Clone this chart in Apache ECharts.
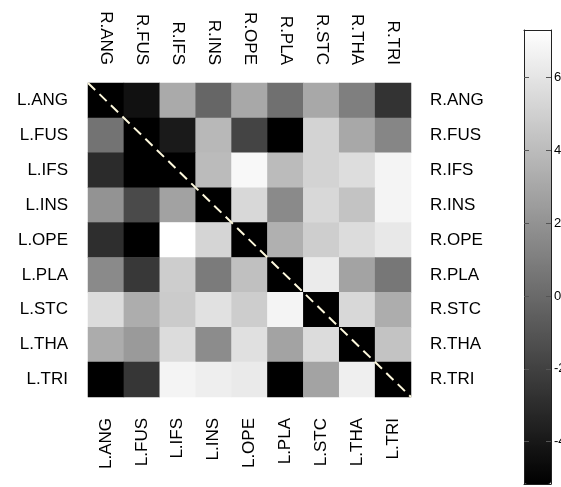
<!DOCTYPE html>
<html>
<head>
<meta charset="utf-8">
<script src="https://cdn.jsdelivr.net/npm/echarts@6/dist/echarts.min.js"></script>
<style>html,body{margin:0;padding:0;background:#fff;}#chart{width:561px;height:487px;}</style>
</head>
<body>
<div id="chart"></div>
<script>
// ---- data ----
const rowLabels = ['L.ANG', 'L.FUS', 'L.IFS', 'L.INS', 'L.OPE', 'L.PLA', 'L.STC', 'L.THA', 'L.TRI'];
const colLabels = ['R.ANG', 'R.FUS', 'R.IFS', 'R.INS', 'R.OPE', 'R.PLA', 'R.STC', 'R.THA', 'R.TRI'];
const rowANG = [-5.16, -4.33, 3.15, -0.18, 3.05, 0.31, 3.05, 1.05, -2.67];
const rowFUS = [0.46, -5.16, -3.89, 3.83, -1.84, -5.16, 5.15, 3.05, 1.39];
const rowIFS = [-3.06, -5.16, -5.16, 3.98, 6.96, 3.98, 5.15, 5.64, 6.76];
const rowINS = [2.02, -1.54, 2.76, -5.16, 5.39, 1.58, 5.39, 4.37, 6.76];
const rowOPE = [-2.91, -5.16, 7.30, 5.25, -5.16, 3.44, 4.91, 5.59, 6.18];
const rowPLA = [1.58, -2.42, 4.86, 0.85, 4.22, -5.16, 6.32, 2.80, 0.65];
const rowSTC = [5.59, 3.29, 4.76, 5.83, 4.86, 6.76, -5.16, 5.39, 3.29];
const rowTHA = [3.24, 2.37, 5.59, 1.68, 5.79, 2.80, 5.59, -5.16, 4.37];
const rowTRI = [-5.16, -2.52, 6.76, 6.47, 6.27, -5.16, 2.80, 6.52, -5.16];
const colorbarTicks = [-4, -2, 0, 2, 4, 6];
const colorMin = -5.16;
const colorMax = 7.30;

const rows = [rowANG, rowFUS, rowIFS, rowINS, rowOPE, rowPLA, rowSTC, rowTHA, rowTRI];
const cells = [];
rows.forEach((r, i) => r.forEach((v, j) => cells.push([j, i, v])));
const n = rowLabels.length;

const font = '"Liberation Sans", Arial, Helvetica, sans-serif';
const labelBase = { color: '#000', fontFamily: font, fontSize: 17 };

const chart = echarts.init(document.getElementById('chart'), null, { renderer: 'canvas' });
chart.setOption({
  animation: false,
  backgroundColor: '#fff',
  grid: [
    { left: 88, top: 83, width: 323, height: 314, outerBoundsMode: 'none', containLabel: false },
    { left: 524, top: 30, width: 27, height: 454, outerBoundsMode: 'none', containLabel: false }
  ],
  xAxis: [
    { gridIndex: 0, type: 'category', position: 'bottom', data: rowLabels,
      axisLine: { show: false }, axisTick: { show: false }, splitLine: { show: false },
      axisLabel: Object.assign({ rotate: 90, margin: 21, interval: 0 }, labelBase) },
    { gridIndex: 0, type: 'category', position: 'top', data: colLabels,
      axisLine: { show: false }, axisTick: { show: false }, splitLine: { show: false },
      axisLabel: Object.assign({ rotate: 90, margin: 18, interval: 0 }, labelBase) },
    { gridIndex: 0, type: 'value', min: 0, max: n, show: false },
    { gridIndex: 1, type: 'value', position: 'bottom', min: 0, max: 1, z: 10,
      axisLine: { show: true, onZero: false, lineStyle: { color: '#222', width: 1 } },
      axisTick: { show: false }, axisLabel: { show: false }, splitLine: { show: false } },
    { gridIndex: 1, type: 'value', position: 'top', min: 0, max: 1, z: 10,
      axisLine: { show: true, onZero: false, lineStyle: { color: '#222', width: 1 } },
      axisTick: { show: false }, axisLabel: { show: false }, splitLine: { show: false } }
  ],
  yAxis: [
    { gridIndex: 0, type: 'category', position: 'left', data: rowLabels, inverse: true,
      axisLine: { show: false }, axisTick: { show: false }, splitLine: { show: false },
      axisLabel: Object.assign({ margin: 20, interval: 0 }, labelBase) },
    { gridIndex: 0, type: 'category', position: 'right', data: colLabels, inverse: true,
      axisLine: { show: false }, axisTick: { show: false }, splitLine: { show: false },
      axisLabel: Object.assign({ margin: 19, interval: 0 }, labelBase) },
    { gridIndex: 0, type: 'value', min: 0, max: n, inverse: true, show: false },
    { gridIndex: 1, type: 'value', position: 'left', min: colorMin, max: colorMax, z: 10,
      axisLine: { show: true, onZero: false, lineStyle: { color: '#222', width: 1 } },
      axisTick: { show: true, inside: true, length: 5, customValues: colorbarTicks, lineStyle: { color: '#555' } },
      axisLabel: { show: false }, splitLine: { show: false } },
    { gridIndex: 1, type: 'value', position: 'right', min: colorMin, max: colorMax, z: 10,
      axisLine: { show: true, onZero: false, lineStyle: { color: '#222', width: 1 } },
      axisTick: { show: true, inside: true, length: 5, customValues: colorbarTicks, lineStyle: { color: '#555' } },
      axisLabel: { show: true, margin: 3, customValues: colorbarTicks, color: '#000', fontFamily: font, fontSize: 13 },
      splitLine: { show: false } }
  ],
  visualMap: {
    type: 'continuous',
    min: colorMin, max: colorMax,
    seriesIndex: 0,
    orient: 'vertical',
    left: 524, top: 30,
    padding: 0,
    itemWidth: 27, itemHeight: 454,
    calculable: false,
    text: null,
    inRange: { color: ['#000000', '#ffffff'] },
    hoverLink: false
  },
  series: [
    { type: 'heatmap', xAxisIndex: 0, yAxisIndex: 0, data: cells,
      itemStyle: { borderWidth: 0 }, emphasis: { disabled: true }, silent: true },
    { type: 'line', xAxisIndex: 2, yAxisIndex: 2, data: [[0, 0], [n, n]],
      symbol: 'none', silent: true, z: 5,
      lineStyle: { color: '#fdf8dc', width: 2, type: [10, 6] } }
  ]
});
</script>
</body>
</html>
